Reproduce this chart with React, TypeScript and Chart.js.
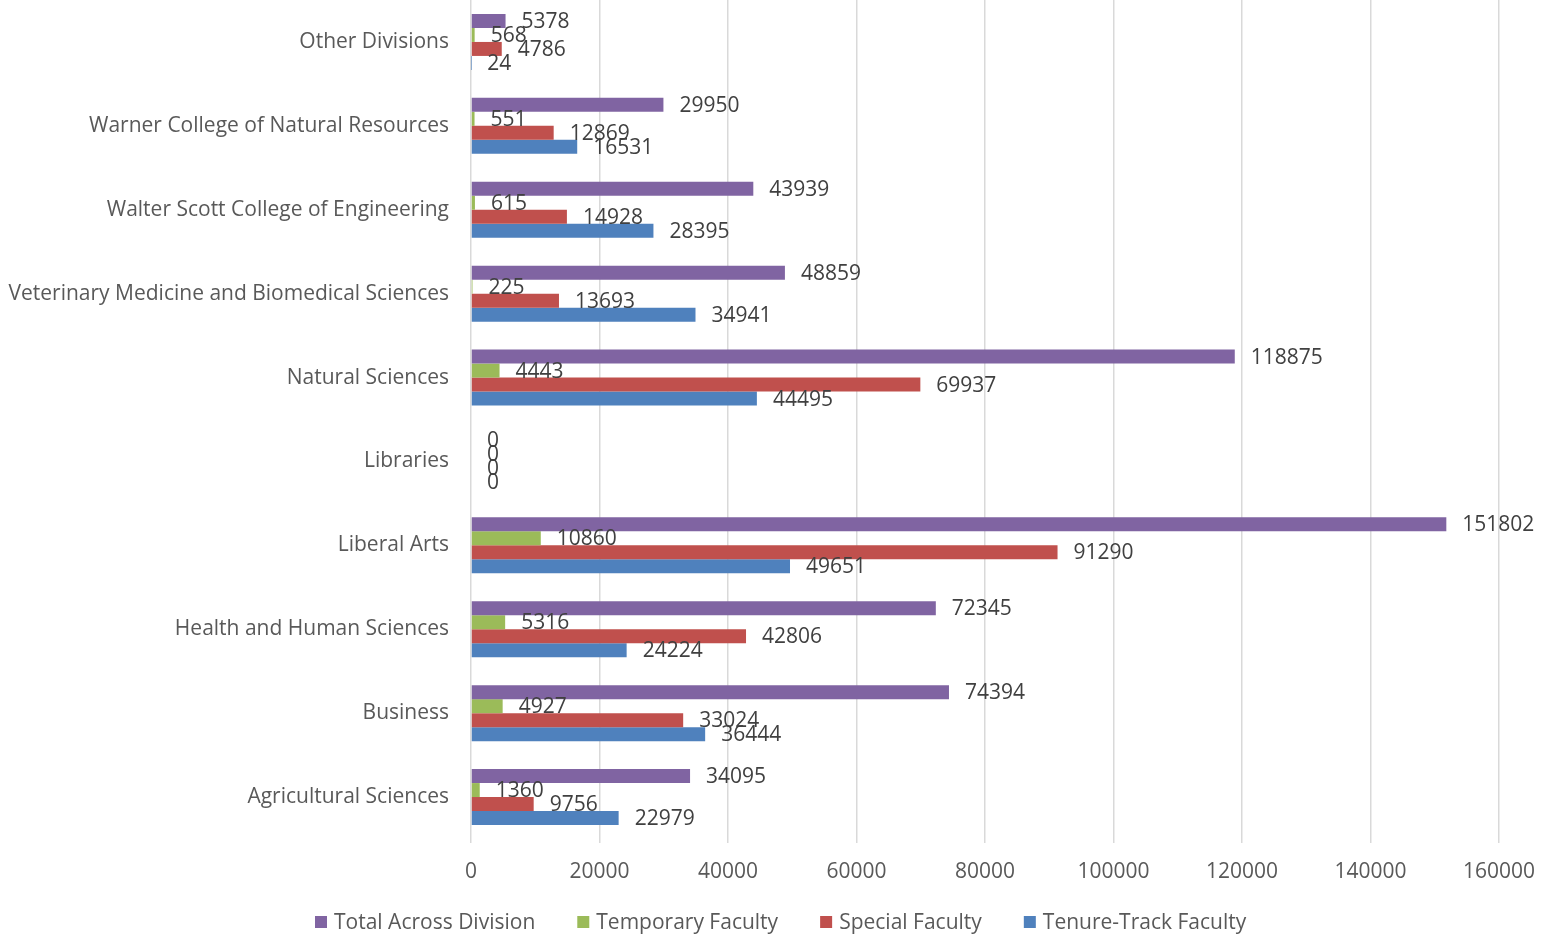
import React, { useEffect, useRef } from "react";
import { Chart, registerables } from "chart.js";

Chart.register(...registerables);

const categories = [
  "Other Divisions",
  "Warner College of Natural Resources",
  "Walter Scott College of Engineering",
  "Veterinary Medicine and Biomedical Sciences",
  "Natural Sciences",
  "Libraries",
  "Liberal Arts",
  "Health and Human Sciences",
  "Business",
  "Agricultural Sciences",
];

const totalAcrossDivision = [5378, 29950, 43939, 48859, 118875, 0, 151802, 72345, 74394, 34095];
const temporaryFaculty = [568, 551, 615, 225, 4443, 0, 10860, 5316, 4927, 1360];
const specialFaculty = [4786, 12869, 14928, 13693, 69937, 0, 91290, 42806, 33024, 9756];
const tenureTrackFaculty = [24, 16531, 28395, 34941, 44495, 0, 49651, 24224, 36444, 22979];

const seriesNames = ["Total Across Division", "Temporary Faculty", "Special Faculty", "Tenure-Track Faculty"];
const seriesColors = ["#8064A2", "#9BBB59", "#C0504D", "#4F81BD"];

const xMax = 160000;
const xStep = 20000;

const FONT = "'Open Sans', sans-serif";
const FS = 21;

const dataLabelPlugin = {
  id: "dataLabels",
  afterDatasetsDraw(chart: any) {
    const ctx = chart.ctx;
    ctx.save();
    ctx.font = `${FS}px ${FONT}`;
    ctx.fillStyle = "#404040";
    ctx.textAlign = "left";
    ctx.textBaseline = "middle";
    chart.data.datasets.forEach((ds: any, di: number) => {
      const meta = chart.getDatasetMeta(di);
      meta.data.forEach((el: any, i: number) => {
        ctx.fillText(String(ds.data[i]), el.x + 16, el.y + 1);
      });
    });
    ctx.restore();
  },
};

const legendPlugin = {
  id: "bottomLegend",
  afterDraw(chart: any) {
    const ctx = chart.ctx;
    const box = 12;
    const gapText = 7;
    const gapItem = 42;
    ctx.save();
    ctx.font = `${FS}px ${FONT}`;
    ctx.textBaseline = "middle";
    ctx.textAlign = "left";
    const items = chart.data.datasets.map((ds: any) => ({
      label: ds.label,
      color: ds.backgroundColor,
      w: ctx.measureText(ds.label).width,
    }));
    const total =
      items.reduce((s: number, it: any) => s + box + gapText + it.w, 0) + gapItem * (items.length - 1);
    const centerX = chart.width / 2 + 4.5;
    let x = Math.round(centerX - total / 2);
    const y = chart.height - 19;
    items.forEach((it: any) => {
      ctx.fillStyle = it.color;
      ctx.fillRect(x, y - box / 2, box, box);
      ctx.fillStyle = "#595959";
      ctx.fillText(it.label, x + box + gapText, y + 1);
      x += box + gapText + it.w + gapItem;
    });
    ctx.restore();
  },
};

export default function App() {
  const ref = useRef<HTMLCanvasElement | null>(null);

  useEffect(() => {
    document.body.style.margin = "0";
    const values = [totalAcrossDivision, temporaryFaculty, specialFaculty, tenureTrackFaculty];
    const chart = new Chart(ref.current!, {
      type: "bar",
      data: {
        labels: categories,
        datasets: values.map((d, i) => ({
          label: seriesNames[i],
          data: d,
          backgroundColor: seriesColors[i],
          borderWidth: 0,
          categoryPercentage: 0.667,
          barPercentage: 1,
        })),
      },
      options: {
        indexAxis: "y",
        animation: false,
        responsive: false,
        maintainAspectRatio: false,
        layout: { padding: { top: 0, right: 54, left: 0, bottom: 50 } },
        scales: {
          x: {
            min: 0,
            max: xMax,
            ticks: {
              stepSize: xStep,
              color: "#595959",
              font: { size: FS, family: FONT },
              padding: 16,
              callback: (v: any) => String(v),
            },
            grid: { color: "#D9D9D9", lineWidth: 1.5, drawTicks: true, tickLength: 4 },
            border: { display: false },
            afterFit: (scale: any) => {
              scale.height = 52;
            },
          },
          y: {
            ticks: { color: "#595959", font: { size: FS, family: FONT, lineHeight: 0 }, padding: 0 },
            grid: { display: false, drawTicks: true, tickLength: 22 },
            border: { display: false },
            afterFit: (scale: any) => {
              scale.width = 471;
            },
          },
        },
        plugins: {
          legend: { display: false },
          tooltip: { enabled: false },
        },
      },
      plugins: [dataLabelPlugin, legendPlugin],
    });
    return () => chart.destroy();
  }, []);

  return (
    <div style={{ position: "absolute", left: 0, top: 0, width: 1553, height: 941 }}>
      <canvas ref={ref} width={1553} height={941} style={{ width: 1553, height: 941 }} />
    </div>
  );
}
